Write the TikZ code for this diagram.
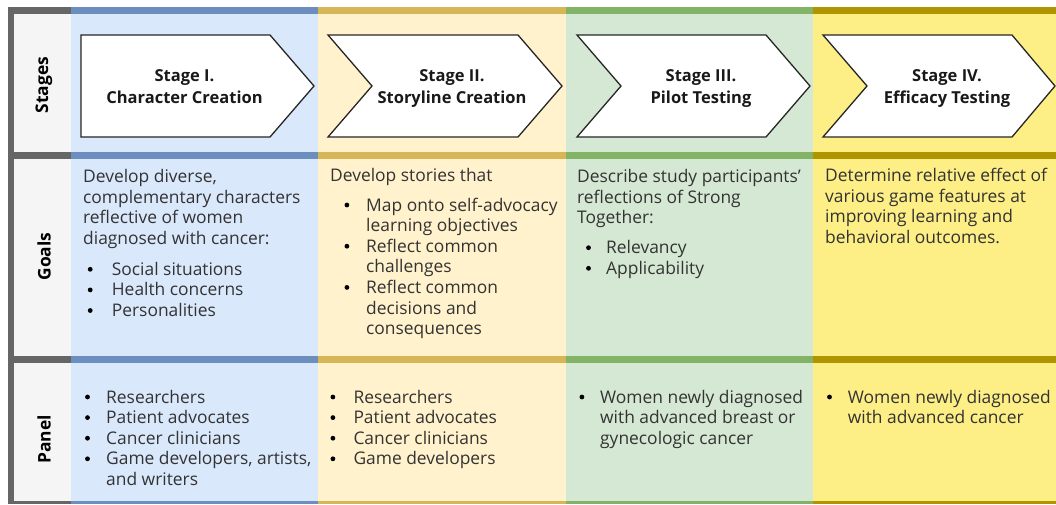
\documentclass[tikz,border=0pt]{standalone}
\usepackage{fontspec}
\setmainfont{Open Sans}
\definecolor{labelbg}{HTML}{F5F5F5}
\definecolor{labelbar}{HTML}{666666}
\definecolor{bluebg}{HTML}{DAE8FC}
\definecolor{bluebar}{HTML}{6C8EBF}
\definecolor{goldbg}{HTML}{FFF2CC}
\definecolor{goldbar}{HTML}{D6B656}
\definecolor{greenbg}{HTML}{D5E8D4}
\definecolor{greenbar}{HTML}{82B366}
\definecolor{yellowbg}{HTML}{FDEE85}
\definecolor{yellowbar}{HTML}{B09500}
\definecolor{bodytext}{HTML}{333333}

% a cell of text: top-aligned box, its reference point on the first baseline
\newcommand\celltext[1]{\parbox[t]{245pt}{\raggedright #1}}
% round list marker, centred 6pt above the baseline
\newcommand\listdot{\tikz[baseline=0pt]\fill[black] (0pt,6pt) circle[radius=2.4pt];}
% a bulleted item: bullet centre at #1, text at #2 from the left edge of the cell
\newcommand\bitem[3]{\par\hangindent=#2\hangafter=0\noindent\llap{\makebox[#2][l]{\hspace{\dimexpr#1-2.4pt\relax}\listdot}}#3}

\begin{document}
\begin{tikzpicture}[x=1pt,y=-1pt,
  bodyfont/.style={font=\fontsize{17.4}{20.6}\selectfont, text=bodytext},
  cell/.style={bodyfont, anchor=base west, inner sep=0pt},
  rowlabel/.style={font=\bfseries\fontsize{17.4}{20}\selectfont, rotate=90, inner sep=0pt},
  stagebox/.style={draw=black!85, line width=1.3pt, fill=white, line join=miter},
  stagetitle/.style={font=\bfseries\fontsize{16.5}{21.6}\selectfont, align=center, anchor=base, inner sep=0pt, text=black!90}]

\useasboundingbox (0,0) rectangle (1056,504);

% column backgrounds
\fill[labelbg]  (8,7)   rectangle (71,504);
\fill[bluebg]   (71,7)  rectangle (318,504);
\fill[goldbg]   (318,7) rectangle (566,504);
\fill[greenbg]  (566,7) rectangle (813,504);
\fill[yellowbg] (813,7) rectangle (1056,504);

% horizontal rules at the top of each row and at the bottom
\foreach \xa/\xb/\c in {8/71/labelbar, 71/318/bluebar, 318/566/goldbar, 566/813/greenbar, 813/1056/yellowbar}{
  \fill[\c] (\xa,7)   rectangle (\xb,14);
  \fill[\c] (\xa,152) rectangle (\xb,159);
  \fill[\c] (\xa,356) rectangle (\xb,363);
  \fill[\c] (\xa,501) rectangle (\xb,504);
}
% left edge of the label column
\fill[labelbar] (8,7) rectangle (14,504);

% row labels
\node[rowlabel] (lstages) at (44,85)    {Stages};
\node[rowlabel] (lgoals)  at (44,256.5) {Goals};
\node[rowlabel] (lpanel)  at (44,439.5) {Panel};

% stage chevrons
\draw[stagebox] (81,35) -- (270,35) -- (314,86) -- (270,137) -- (81,137) -- cycle;
\draw[stagebox] (328,35) -- (518,35) -- (562,86) -- (518,137) -- (328,137) -- (372,86) -- cycle;
\draw[stagebox] (577,35) -- (766,35) -- (810,86) -- (766,137) -- (577,137) -- (621,86) -- cycle;
\draw[stagebox] (823,35) -- (1012,35) -- (1055,86) -- (1012,137) -- (823,137) -- (867,86) -- cycle;

% titles: the base anchor sits on the baseline of the second line
\node[stagetitle] (s1) at (184.5,103.3) {Stage I.\\Character Creation};
\node[stagetitle] (s2) at (452,103.3)   {Stage II.\\Storyline Creation};
\node[stagetitle] (s3) at (701,103.3)   {Stage III.\\Pilot Testing};
\node[stagetitle] (s4) at (947,103.3)   {Stage IV.\\Efficacy Testing};

% goals row
\node[cell] (g1) at (83,182.5) {\celltext{%
  Develop diverse,\newline complementary characters\newline reflective of women\newline diagnosed with cancer:\par\vskip 10.4pt
  \bitem{7pt}{28.7pt}{Social situations}
  \bitem{7pt}{28.7pt}{Health concerns}
  \bitem{7pt}{28.7pt}{Personalities}}};

\node[cell] (g2) at (330,181.7) {\celltext{%
  Develop stories that\par\vskip 8.7pt
  \bitem{16.7pt}{36pt}{Map onto self-advocacy\newline learning objectives}
  \bitem{16.7pt}{36pt}{Reflect common\newline challenges}
  \bitem{16.7pt}{36pt}{Reflect common\newline decisions and\newline consequences}}};

\node[cell] (g3) at (577,182.5) {\celltext{%
  Describe study participants'\newline reflections of Strong\newline Together:\par\vskip 9.4pt
  \bitem{11.3pt}{29pt}{Relevancy}
  \bitem{11.3pt}{29pt}{Applicability}}};

\node[cell] (g4) at (825,181.7) {\celltext{%
  Determine relative effect of\newline various game features at\newline improving learning and\newline behavioral outcomes.}};

% panel row
\node[cell] (p1) at (83,403) {\celltext{%
  \bitem{4.3pt}{23pt}{Researchers}
  \bitem{4.3pt}{23pt}{Patient advocates}
  \bitem{4.3pt}{23pt}{Cancer clinicians}
  \bitem{4.3pt}{23pt}{Game developers, artists,\newline and writers}}};

\node[cell] (p2) at (330,403) {\celltext{%
  \bitem{2.7pt}{23.3pt}{Researchers}
  \bitem{2.7pt}{23.3pt}{Patient advocates}
  \bitem{2.7pt}{23.3pt}{Cancer clinicians}
  \bitem{2.7pt}{23.3pt}{Game developers}}};

\node[cell] (p3) at (577,403) {\celltext{%
  \bitem{4.7pt}{23pt}{Women newly diagnosed\newline with advanced breast or\newline gynecologic cancer}}};

\node[cell] (p4) at (825,403) {\celltext{%
  \bitem{4.3pt}{22.7pt}{Women newly diagnosed\newline with advanced cancer}}};

\end{tikzpicture}
\end{document}
